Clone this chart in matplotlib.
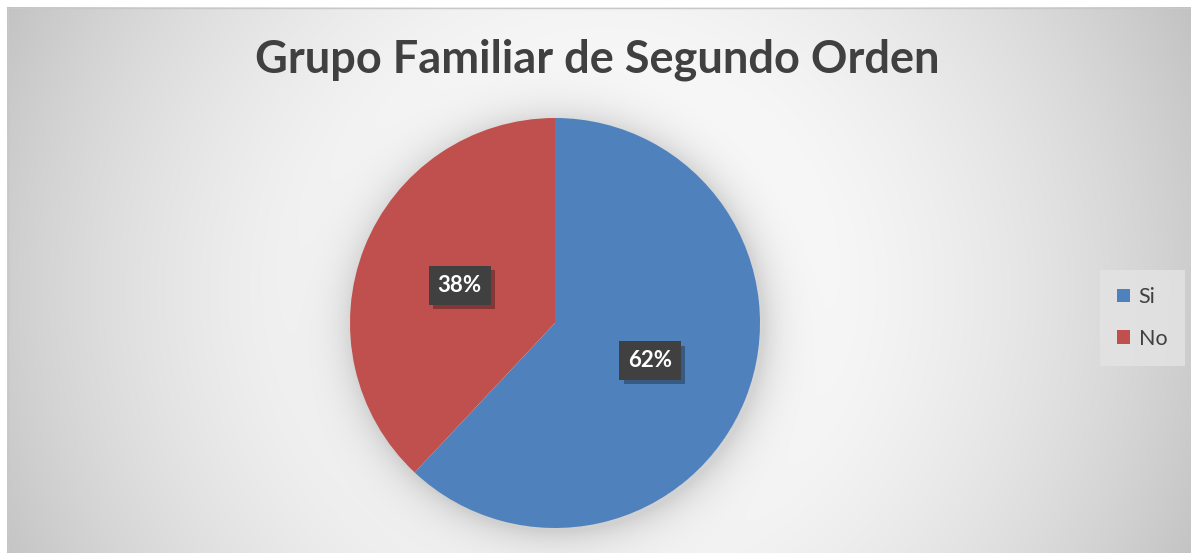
import matplotlib
matplotlib.use("Agg")
import matplotlib.pyplot as plt
import matplotlib.patheffects as pe
import numpy as np

# data
labels = ["Si", "No"]
values = [62, 38]
colors = ["#4F81BD", "#C0504D"]
title = "Grupo Familiar de Segundo Orden"

W, H = 1191, 553
plt.rcParams["font.family"] = ["Lato", "DejaVu Sans"]

fig = plt.figure(figsize=(W / 100, H / 100), dpi=100)
fig.patch.set_facecolor("white")
ax = fig.add_axes([0, 0, 1, 1])

# radial gradient background with soft halo around the pie (pixel rows top-down)
cx, cy, R = 555, 323, 205
yy, xx = np.mgrid[0:H, 0:W]
d = np.hypot(xx - 596, yy - 290)
bg = 255 - 59 * (d / 649) ** 2
dp = np.hypot(xx - cx - 3, yy - cy - 3)
halo = 38 * np.exp(-np.clip(dp - R, 0, None) / 20)
bg = bg - np.where(dp > R - 5, halo, 0)
bg = np.clip(bg, 0, 255) / 255
img = np.dstack([bg, bg, bg])
img[:7, :, :] = 1
img[:, :7, :] = 1
ax.imshow(img, extent=(0, W, 0, H), origin="upper", interpolation="bilinear", zorder=0)
ax.plot([7, W], [H - 7.5, H - 7.5], color="#c8c8c8", lw=1, zorder=1)
ax.plot([7.5, 7.5], [0, H - 7], color="#c8c8c8", lw=1, zorder=1)

wedges, texts, autotexts = ax.pie(
    values, colors=colors, startangle=90, counterclock=False,
    center=(cx, H - cy), radius=R, autopct="%1.0f%%", pctdistance=0.5,
    textprops=dict(color="white", fontsize=16, fontweight="bold"),
    wedgeprops=dict(linewidth=0), frame=True)
ax.set_xlim(0, W)
ax.set_ylim(0, H)
ax.set_aspect("equal")
ax.axis("off")

for t in autotexts:
    t.set_bbox(dict(boxstyle="square,pad=0.4", facecolor="#404040", edgecolor="none"))
    t.get_bbox_patch().set_path_effects(
        [pe.SimplePatchShadow(offset=(3, -3), shadow_rgbFace="black", alpha=0.3), pe.Normal()])

fig.text(597 / W, 1 - 60 / H, title, ha="center", va="center",
         fontsize=32.5, fontweight="bold", color="#404040")

leg = fig.legend(wedges, labels, loc="upper left",
                 bbox_to_anchor=(1100 / W, 1 - 270 / H),
                 frameon=True, fancybox=False, facecolor="#e4e4e4", edgecolor="none",
                 framealpha=0.8, fontsize=15.5, handlelength=0.6, handleheight=0.6,
                 handletextpad=0.4, labelspacing=1.0, borderpad=0.8, borderaxespad=0)
for t in leg.get_texts():
    t.set_color("#404040")

fig.savefig("out.png", dpi=100)
